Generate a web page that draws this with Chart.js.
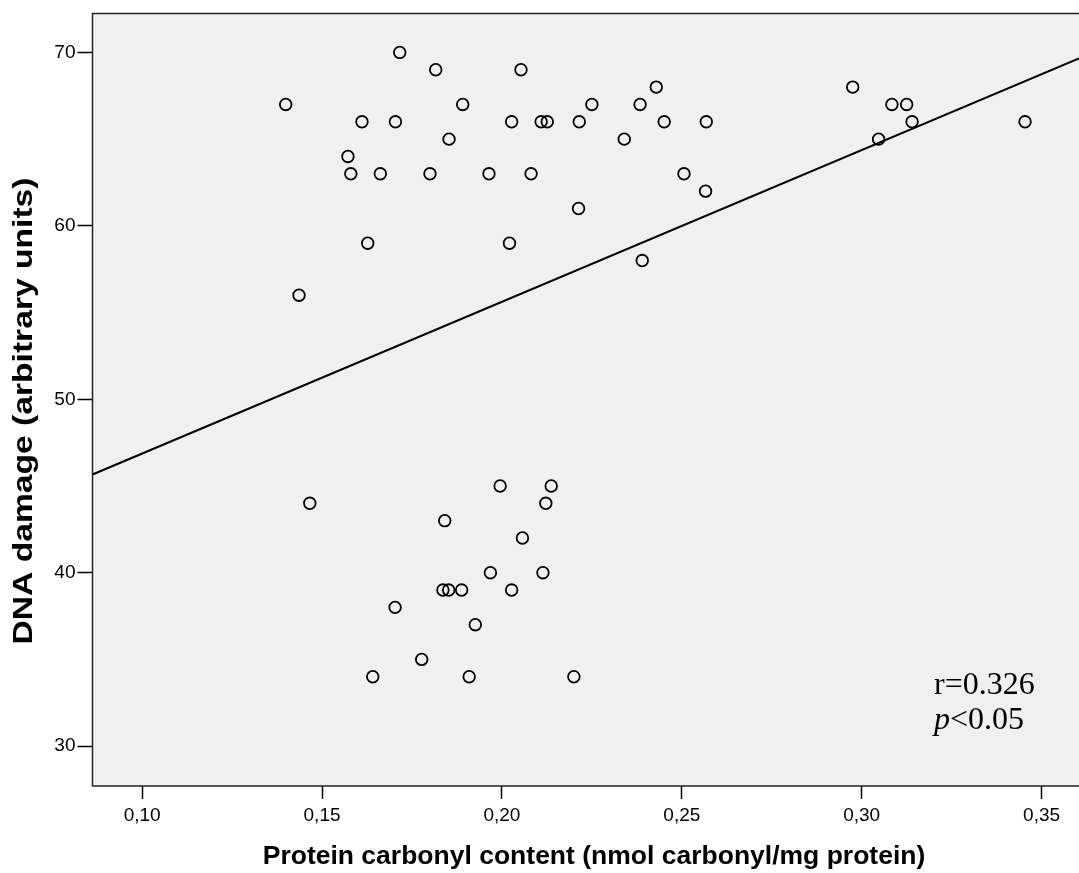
<!DOCTYPE html>
<html>
<head>
<meta charset="utf-8">
<script src="https://cdn.jsdelivr.net/npm/chart.js@4.4.1/dist/chart.umd.min.js"></script>
<style>
  html, body { margin: 0; padding: 0; background: #fff; overflow: hidden; }
  canvas { display: block; }
</style>
</head>
<body>
<canvas id="chart" width="1079" height="873"></canvas>
<script>
// carbonyl content (x) and DNA damage (y)
const carbonyl = [
  0.1399, 0.1436, 0.1572, 0.1580, 0.1611, 0.1627, 0.1662, 0.1704, 0.1716, 0.1800,
  0.1816, 0.1853, 0.1891, 0.1964, 0.2021, 0.2027, 0.2053, 0.2081, 0.2109, 0.2126,
  0.2213, 0.2215, 0.2250, 0.2340, 0.2384, 0.2390, 0.2429, 0.2451, 0.2506, 0.2566,
  0.2568, 0.2975, 0.3047, 0.3084, 0.3125, 0.3140, 0.3454,
  0.1466, 0.1641, 0.1703, 0.1777, 0.1836, 0.1841, 0.1852, 0.1888, 0.1909, 0.1926,
  0.1968, 0.1995, 0.2027, 0.2057, 0.2114, 0.2122, 0.2137, 0.2200
];
const dnaDamage = [
  67, 56, 64, 63, 66, 59, 63, 66, 70, 63,
  69, 65, 67, 63, 59, 66, 69, 63, 66, 66,
  61, 66, 67, 65, 67, 58, 68, 66, 63, 62,
  66, 68, 65, 67, 67, 66, 66,
  44, 34, 38, 35, 39, 43, 39, 39, 34, 37,
  40, 45, 39, 42, 40, 44, 45, 34
];

// fit line ends (at the plot edges)
const fitX = [0.0862, 0.3604];
const fitY = [45.66, 69.65];

const xTicks = [0.10, 0.15, 0.20, 0.25, 0.30, 0.35];
const yTicks = [30, 40, 50, 60, 70];

const xTitle = 'Protein carbonyl content (nmol carbonyl/mg protein)';
const yTitle = 'DNA damage (arbitrary units)';
const statLines = ['r=0.326', 'p<0.05'];

const points = carbonyl.map((x, i) => ({ x: x, y: dnaDamage[i] }));
const fitLine = fitX.map((x, i) => ({ x: x, y: fitY[i] }));

const SANS = 'Arial, "Liberation Sans", sans-serif';
const SERIF = '"Liberation Serif", "Times New Roman", serif';

// plot area runs off the right edge of the picture
const fullWidth = {
  id: 'fullWidth',
  afterLayout(chart) {
    const a = chart.chartArea;
    const x = chart.scales.x;
    const d = chart.width - a.right;
    if (d > 0) {
      a.right += d;
      a.width += d;
      x.right += d;
      x.width += d;
      x.configure();
    }
  }
};

// grey plot background, frame, axis titles and the r/p note
const frame = {
  id: 'frame',
  beforeDatasetsDraw(chart) {
    const { ctx, chartArea: a } = chart;
    ctx.save();
    ctx.fillStyle = '#f0f0f0';
    ctx.fillRect(a.left, a.top, a.right - a.left + 2, a.bottom - a.top);
    ctx.restore();
  },
  afterDraw(chart) {
    const { ctx, chartArea: a } = chart;
    ctx.save();
    ctx.strokeStyle = '#222';
    ctx.lineWidth = 1.5;
    ctx.beginPath();
    ctx.moveTo(a.right + 2, a.top);
    ctx.lineTo(a.left, a.top);
    ctx.lineTo(a.left, a.bottom);
    ctx.lineTo(a.right + 2, a.bottom);
    ctx.stroke();

    ctx.fillStyle = '#000';
    // x title
    ctx.font = 'bold 26.5px ' + SANS;
    ctx.textAlign = 'center';
    ctx.textBaseline = 'middle';
    ctx.fillText(xTitle, 594, 857);

    // y title (stretched along its length like the original export)
    ctx.font = 'bold 27px ' + SANS;
    const w = ctx.measureText(yTitle).width;
    ctx.translate(25, 411);
    ctx.rotate(-Math.PI / 2);
    ctx.scale(467 / w, 1);
    ctx.fillText(yTitle, 0, 0);
    ctx.setTransform(1, 0, 0, 1, 0, 0);

    // r / p annotation
    ctx.textAlign = 'left';
    ctx.textBaseline = 'alphabetic';
    ctx.font = '32px ' + SERIF;
    ctx.fillText(statLines[0], 934, 694);
    ctx.font = 'italic 32px ' + SERIF;
    const p = statLines[1].charAt(0);
    ctx.fillText(p, 934, 729);
    const pw = ctx.measureText(p).width;
    ctx.font = '32px ' + SERIF;
    ctx.fillText(statLines[1].slice(1), 934 + pw, 729);
    ctx.restore();
  }
};

new Chart(document.getElementById('chart'), {
  type: 'scatter',
  data: {
    datasets: [
      {
        label: 'DNA damage',
        data: points,
        pointRadius: 5.8,
        pointHoverRadius: 5.8,
        pointBorderWidth: 1.8,
        borderColor: '#000',
        backgroundColor: 'rgba(0,0,0,0)'
      },
      {
        type: 'line',
        label: 'Fit',
        data: fitLine,
        borderColor: '#000',
        borderWidth: 2,
        pointRadius: 0,
        fill: false
      }
    ]
  },
  plugins: [fullWidth, frame],
  options: {
    responsive: false,
    animation: false,
    layout: { padding: { top: 12.7, right: 0, bottom: 0, left: 0 } },
    plugins: {
      legend: { display: false },
      tooltip: { enabled: false }
    },
    scales: {
      x: {
        type: 'linear',
        min: 0.0862,
        max: 0.3604,
        afterBuildTicks: s => { s.ticks = xTicks.map(v => ({ value: v })); },
        afterFit: s => { s.height = 873 - 786; },
        grid: {
          drawOnChartArea: false,
          drawTicks: true,
          tickLength: 13,
          tickWidth: 1.5,
          tickColor: '#000'
        },
        border: { display: false },
        ticks: {
          color: '#000',
          padding: 5,
          font: { family: SANS, size: 19 },
          callback: v => v.toFixed(2).replace('.', ',')
        },
        title: { display: false }
      },
      y: {
        type: 'linear',
        min: 27.7,
        max: 72.25,
        afterBuildTicks: s => { s.ticks = yTicks.map(v => ({ value: v })); },
        afterFit: s => { s.width = 92.5; },
        grid: {
          drawOnChartArea: false,
          drawTicks: true,
          tickLength: 15,
          tickWidth: 1.5,
          tickColor: '#000'
        },
        border: { display: false },
        ticks: {
          color: '#000',
          padding: 2,
          font: { family: SANS, size: 19 }
        },
        title: { display: false }
      }
    }
  }
});
</script>
</body>
</html>
